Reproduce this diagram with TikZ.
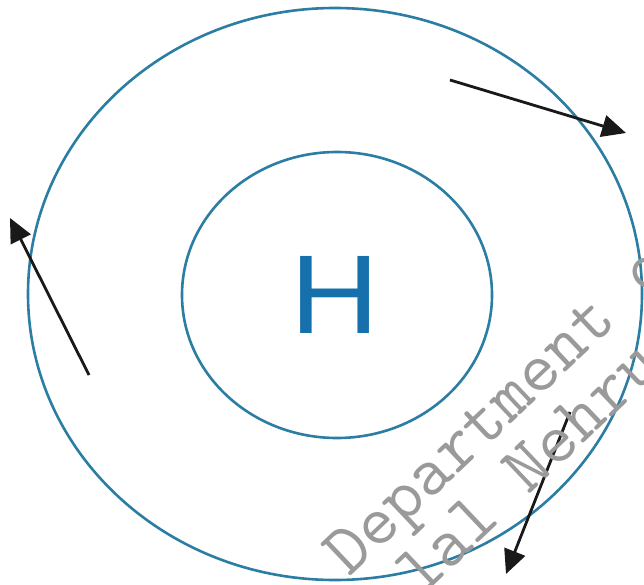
\documentclass[tikz,border=0pt]{standalone}
\usepackage{fontspec}
\usetikzlibrary{arrows.meta}
\newfontfamily\hfont{Liberation Sans}
\definecolor{ring}{HTML}{2B7DA3}
\definecolor{hblue}{HTML}{1570AC}
\definecolor{wm}{HTML}{9A9A9A}
\tikzset{
  orbit/.style={draw=ring, line width=2.6pt},
  motion/.style={draw=black!90, line width=2.8pt, -{Triangle[length=24pt,width=22pt]}},
  wmtext/.style={text=wm, font=\ttfamily\fontsize{72}{72}\selectfont, inner sep=0pt, anchor=base west, rotate=43.5}
}
\begin{document}
\begin{tikzpicture}[x=1pt,y=-1pt]
\useasboundingbox (0,0) rectangle (644,585);
\clip (0,0) rectangle (644,585);
\fill[white] (0,0) rectangle (644,585);
% orbits
\draw[orbit] (335,294) ellipse [x radius=307pt, y radius=286pt];
\draw[orbit] (337,295) ellipse [x radius=155pt, y radius=143pt];
\node[text=hblue, font=\hfont\fontsize{112}{112}\selectfont, inner sep=0pt, xscale=1.1] (H) at (335,295) {H};
% motion arrows
\coordinate (a1s) at (450,80);
\coordinate (a1e) at (626,133);
\coordinate (a2s) at (89,375);
\coordinate (a2e) at (10,218);
\coordinate (a3s) at (570,412);
\coordinate (a3e) at (506,574);
\draw[motion] (a1s) -- (a1e);
\draw[motion] (a2s) -- (a2e);
\draw[motion] (a3s) -- (a3e);
% watermark
\node[wmtext] (wm1) at (349,578) {Department of};
\node[wmtext] (wm2) at (421,598) {lal Nehru};
\end{tikzpicture}
\end{document}
